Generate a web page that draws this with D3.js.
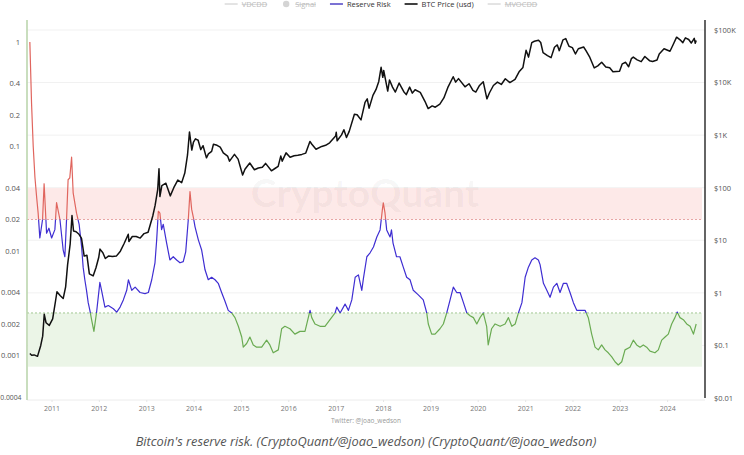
<!DOCTYPE html>
<html><head><meta charset="utf-8">
<script src="https://cdn.jsdelivr.net/npm/d3@7"></script>
<style>
body{margin:0;background:#fff;}
svg{display:block;font-family:"Open Sans",sans-serif;}
</style>
</head><body>
<svg id="c" width="744" height="455"></svg>
<script>
// ---------- DATA ----------
const rrDates = ["2010-07-18","2010-07-31","2010-08-13","2010-08-26","2010-09-08","2010-09-20","2010-10-03","2010-10-24","2010-11-05","2010-11-24","2010-12-12",
"2011-01-02","2011-01-27","2011-02-09","2011-03-07","2011-04-01","2011-04-14","2011-04-27","2011-05-09","2011-05-22","2011-06-05","2011-06-17","2011-07-13","2011-08-02","2011-08-21","2011-09-02","2011-09-15","2011-09-28","2011-10-11","2011-10-24","2011-11-06","2011-11-24","2011-12-14",
"2012-01-09","2012-01-22","2012-02-17","2012-03-14","2012-04-22","2012-05-18","2012-06-13","2012-07-08","2012-08-03","2012-08-16","2012-09-11","2012-10-07","2012-11-14","2012-12-22",
"2013-01-17","2013-02-12","2013-03-09","2013-03-22","2013-04-04","2013-04-16","2013-04-29","2013-05-12","2013-06-07","2013-07-02","2013-07-28","2013-08-23","2013-09-18","2013-10-13","2013-11-01","2013-11-21","2013-12-04","2013-12-17","2013-12-30",
"2014-01-12","2014-02-07","2014-03-04","2014-03-30","2014-04-24","2014-05-20","2014-06-15","2014-07-10","2014-08-05","2014-08-31","2014-09-25","2014-10-22","2014-11-16","2014-12-12",
"2015-01-07","2015-01-19","2015-02-14","2015-03-11","2015-04-06","2015-05-02","2015-06-10","2015-07-18","2015-08-12","2015-09-07","2015-10-16","2015-11-11","2015-12-06",
"2016-01-14","2016-02-21","2016-03-31","2016-05-09","2016-06-17","2016-06-30","2016-07-25","2016-09-02","2016-10-10","2016-11-18","2016-12-27",
"2017-01-09","2017-02-04","2017-03-14","2017-04-09","2017-05-05","2017-05-31","2017-06-25","2017-07-21","2017-08-03","2017-08-29","2017-09-23","2017-10-19","2017-11-14","2017-12-09","2017-12-27",
"2018-01-03","2018-01-16","2018-01-29","2018-02-24","2018-03-07","2018-03-19","2018-04-15","2018-05-11","2018-06-06","2018-07-02","2018-07-28","2018-08-22","2018-09-30","2018-11-07","2018-12-04","2018-12-16",
"2019-01-11","2019-02-06","2019-03-16","2019-04-11","2019-05-07","2019-06-02","2019-06-27","2019-07-23","2019-08-18","2019-09-13","2019-10-09","2019-11-03","2019-11-29","2019-12-25",
"2020-01-19","2020-02-13","2020-03-10","2020-03-22","2020-04-17","2020-05-14","2020-06-22","2020-07-30","2020-08-25","2020-09-20","2020-10-16","2020-11-10","2020-12-07",
"2021-01-01","2021-01-26","2021-02-21","2021-03-18","2021-04-13","2021-04-26","2021-05-22","2021-06-17","2021-07-12","2021-08-07","2021-09-02","2021-09-27","2021-10-23","2021-11-17","2021-12-13",
"2022-01-08","2022-02-03","2022-02-28","2022-04-08","2022-05-03","2022-05-29","2022-06-24","2022-07-19","2022-08-14","2022-09-09","2022-10-04","2022-10-31","2022-11-25","2022-12-20",
"2023-01-16","2023-02-10","2023-03-20","2023-04-15","2023-05-11","2023-06-06","2023-07-01","2023-07-27","2023-08-22","2023-09-29","2023-10-25","2023-11-20","2023-12-16",
"2024-01-10","2024-02-05","2024-03-01","2024-03-19","2024-04-09","2024-05-05","2024-05-31","2024-06-26","2024-07-22","2024-08-12"];
const rrValues = [1.0,0.26,0.10,0.051,0.033,0.023,0.0133,0.020,0.044,0.0148,0.0165,
0.0133,0.016,0.029,0.020,0.0102,0.0088,0.020,0.048,0.050,0.079,0.036,0.023,0.018,0.011,0.0070,0.0053,0.0042,0.0032,0.0027,0.0022,0.0017,0.00255,
0.0050,0.0042,0.0029,0.0030,0.0028,0.0026,0.0029,0.0034,0.0042,0.0053,0.0042,0.0045,0.0040,0.0039,
0.0040,0.0053,0.0077,0.0127,0.024,0.023,0.016,0.018,0.0119,0.0082,0.0088,0.0082,0.0077,0.0079,0.0098,0.020,0.037,0.025,0.021,
0.017,0.0127,0.0102,0.0066,0.0053,0.0056,0.0053,0.0049,0.0040,0.0033,0.0027,0.00255,0.0023,0.0019,
0.0015,0.0012,0.0013,0.0015,0.00126,0.0012,0.0012,0.0014,0.00126,0.00106,0.00113,0.0018,0.0019,
0.0018,0.0016,0.0017,0.0017,0.0027,0.0023,0.0020,0.0019,0.0019,0.0022,0.00255,
0.0029,0.00255,0.0031,0.0027,0.0034,0.0056,0.0059,0.0042,0.0055,0.0088,0.0096,0.0109,0.0136,0.0159,0.025,
0.0288,0.0231,0.0159,0.0136,0.0159,0.0119,0.0088,0.0088,0.0070,0.0056,0.0053,0.0042,0.0038,0.0034,0.00255,0.0020,
0.0016,0.0016,0.0018,0.0020,0.00255,0.0034,0.0045,0.0040,0.0040,0.0032,0.00255,0.0024,0.0023,0.0020,
0.0023,0.00255,0.0019,0.00126,0.0018,0.0020,0.0019,0.0020,0.0023,0.0019,0.0020,0.00255,0.0032,
0.0056,0.0070,0.0082,0.0086,0.0082,0.0074,0.0049,0.0042,0.0036,0.0045,0.0049,0.0040,0.0049,0.0049,0.0040,
0.0032,0.0027,0.0027,0.0027,0.0023,0.0016,0.0012,0.00113,0.00126,0.00113,0.00106,0.00097,0.00087,0.00081,
0.00087,0.00113,0.0012,0.0014,0.00126,0.0012,0.00126,0.0012,0.0011,0.00106,0.00113,0.0014,0.0015,
0.0016,0.0020,0.0023,0.0026,0.0023,0.0022,0.0020,0.0019,0.0016,0.0020];

const btcDates = ["2010-07-18","2010-08-01","2010-08-20","2010-09-15","2010-10-10","2010-10-25","2010-11-06","2010-11-20","2010-12-15",
"2011-01-10","2011-02-01","2011-02-12","2011-03-10","2011-04-01","2011-04-20","2011-05-05","2011-05-25","2011-06-08","2011-06-20","2011-07-10","2011-08-01","2011-08-20","2011-09-10","2011-10-01","2011-10-20","2011-11-18","2011-12-10","2011-12-31",
"2012-01-10","2012-02-01","2012-02-20","2012-03-15","2012-04-15","2012-05-15","2012-06-15","2012-07-15","2012-08-15","2012-08-20","2012-09-15","2012-10-15","2012-11-15","2012-12-15",
"2013-01-15","2013-02-01","2013-02-20","2013-03-10","2013-03-30","2013-04-09","2013-04-16","2013-05-01","2013-06-01","2013-07-05","2013-08-01","2013-09-01","2013-10-01","2013-10-25","2013-11-15","2013-11-30","2013-12-18","2013-12-31",
"2014-01-15","2014-02-05","2014-02-25","2014-03-15","2014-04-10","2014-04-25","2014-05-20","2014-06-03","2014-07-01","2014-07-25","2014-08-18","2014-09-20","2014-10-05","2014-11-12","2014-12-10",
"2015-01-14","2015-02-01","2015-03-10","2015-04-15","2015-05-15","2015-06-15","2015-07-10","2015-08-24","2015-09-20","2015-10-15","2015-11-04","2015-11-15","2015-12-15",
"2016-01-15","2016-02-15","2016-03-15","2016-04-15","2016-05-15","2016-06-16","2016-07-01","2016-08-02","2016-09-15","2016-10-15","2016-11-15","2016-12-31",
"2017-01-05","2017-01-12","2017-02-15","2017-03-05","2017-03-25","2017-04-15","2017-05-25","2017-06-15","2017-07-15","2017-08-15","2017-09-01","2017-09-15","2017-10-15","2017-11-08","2017-11-29","2017-12-17","2017-12-30",
"2018-01-06","2018-02-06","2018-02-20","2018-03-15","2018-04-06","2018-05-05","2018-06-10","2018-06-29","2018-07-25","2018-08-15","2018-09-05","2018-10-15","2018-11-20","2018-12-15",
"2019-01-15","2019-02-08","2019-03-15","2019-04-15","2019-05-15","2019-06-26","2019-07-15","2019-08-06","2019-09-25","2019-10-26","2019-11-25","2019-12-17",
"2020-01-15","2020-02-13","2020-03-12","2020-04-01","2020-05-01","2020-06-01","2020-07-01","2020-08-01","2020-09-05","2020-10-15","2020-11-15","2020-12-15",
"2021-01-08","2021-01-27","2021-02-21","2021-03-13","2021-04-14","2021-05-01","2021-05-19","2021-06-22","2021-07-20","2021-08-15","2021-09-06","2021-09-21","2021-10-20","2021-11-10","2021-12-05","2021-12-31",
"2022-01-24","2022-02-15","2022-03-28","2022-04-15","2022-05-15","2022-06-18","2022-07-15","2022-08-14","2022-09-15","2022-10-15","2022-11-09","2022-12-30",
"2023-01-20","2023-02-15","2023-03-10","2023-03-31","2023-04-15","2023-05-15","2023-06-15","2023-07-13","2023-08-18","2023-09-11","2023-10-15","2023-11-01","2023-12-08",
"2024-01-23","2024-02-15","2024-03-14","2024-04-15","2024-05-01","2024-05-21","2024-06-15","2024-07-05","2024-07-28","2024-08-05","2024-08-12"];
const btcPrices = [0.07,0.065,0.066,0.062,0.10,0.15,0.39,0.27,0.24,
0.32,0.70,1.05,0.88,0.78,1.3,3.4,8.5,29.6,15,14.5,13,11,5.0,5.2,2.3,2.1,3.0,4.7,
6.8,5.8,4.5,5.0,4.9,5.0,6.2,8.8,13.0,9.5,11.8,11.8,11.0,13.4,
14.2,20,29,46,92,230,68,110,122,70,100,140,125,190,420,1150,520,740,
850,800,530,630,370,440,490,670,640,590,460,400,320,430,350,
175,225,295,220,237,245,290,210,232,255,400,320,460,
380,405,415,430,455,760,670,540,610,640,715,960,
1130,780,1010,1270,900,1180,2500,2450,1950,4200,4900,3250,5700,7400,10500,19500,12600,
17000,6900,11200,8200,6600,9800,6700,5900,8200,6300,7300,6500,4400,3200,
3600,3400,3900,5100,8000,12900,10200,11900,8300,9500,7100,6600,
8800,10350,4900,6400,8800,10200,9200,11800,10000,11500,16000,19400,
41000,30500,57500,61000,64000,57800,37000,32500,29800,47000,52000,40500,65000,68500,49000,46300,
35000,44000,47500,40500,30000,19000,20800,24400,19700,19100,16000,16500,
22700,24300,20000,28500,30500,27100,25000,31400,26100,25100,26900,35000,44000,
39500,51900,73000,63400,57500,71000,66000,56500,69500,56000,63000];

const years = [2011,2012,2013,2014,2015,2016,2017,2018,2019,2020,2021,2022,2023,2024];
const leftTicks = [1,0.4,0.2,0.1,0.04,0.02,0.01,0.004,0.002,0.001,0.0004];
const leftTickLabels = ["1","0.4","0.2","0.1","0.04","0.02","0.01","0.004","0.002","0.001","0.0004"];
const rightTicks = [100000,10000,1000,100,10,1,0.1,0.01];
const rightTickLabels = ["$100K","$10K","$1K","$100","$10","$1","$0.1","$0.01"];
const highBand = [0.02, 0.04];
const lowBand = [0.00078, 0.00255];
const legendNames = ["VDCDD","Signal","Reserve Risk","BTC Price (usd)","MVOCDD"];
const legendActive = [false,false,true,true,false];

// ---------- LAYOUT ----------
const W = 744, H = 455;
const L = 27, R = 705, T = 20, B = 400;
const svg = d3.select("#c");
const parse = d3.utcParse("%Y-%m-%d");

const x = d3.scaleUtc().domain([parse("2010-06-26"), parse("2024-10-19")]).range([L, R]);
const yL = d3.scaleLog().domain([0.0004, 1]).range([397, 42]);
const yR = d3.scaleLog().domain([0.01, 100000]).range([398, 30]);

const rr = rrDates.map((d,i)=>({d:parse(d), v:rrValues[i]}));
const btc = btcDates.map((d,i)=>({d:parse(d), v:btcPrices[i]}));

// gridlines
svg.append("g").selectAll("line").data(rightTicks.slice(0,-1)).join("line")
  .attr("x1", L).attr("x2", R).attr("y1", d=>yR(d)).attr("y2", d=>yR(d))
  .attr("stroke", "#f1f1f1").attr("stroke-width", 1);
svg.append("line").attr("x1", L).attr("x2", R).attr("y1", B).attr("y2", B)
  .attr("stroke", "#ececec");

// bands
svg.append("rect").attr("x", L+1).attr("width", R-L-4)
  .attr("y", yL(highBand[1])).attr("height", yL(highBand[0]) - yL(highBand[1]))
  .attr("fill", "#fde9e8");
svg.append("rect").attr("x", L+1).attr("width", R-L-4)
  .attr("y", yL(lowBand[1])).attr("height", yL(lowBand[0]) - yL(lowBand[1]))
  .attr("fill", "#ebf5e7");
svg.append("line").attr("x1", L).attr("x2", R-3).attr("y1", yL(highBand[0])).attr("y2", yL(highBand[0]))
  .attr("stroke", "#e49c9c").attr("stroke-dasharray", "2,2").attr("stroke-width", 0.9);
svg.append("line").attr("x1", L).attr("x2", R-3).attr("y1", yL(lowBand[1])).attr("y2", yL(lowBand[1]))
  .attr("stroke", "#97c188").attr("stroke-dasharray", "2,2").attr("stroke-width", 0.9);

// watermark
svg.append("text").attr("x", 365).attr("y", 207).attr("text-anchor", "middle")
  .attr("font-family", "Lato, 'Open Sans', sans-serif").attr("font-size", 39).attr("font-weight", "bold")
  .attr("fill", "#000").attr("fill-opacity", 0.045).text("CryptoQuant");

// clip paths for reserve risk colouring
const defs = svg.append("defs");
const clips = [
  {id:"cr", y0:T-20, y1:yL(highBand[0]), color:"#e0655e"},
  {id:"cb", y0:yL(highBand[0]), y1:yL(lowBand[1]), color:"#3f2ed2"},
  {id:"cg", y0:yL(lowBand[1]), y1:B+10, color:"#6aab52"}
];
clips.forEach(c=>{
  defs.append("clipPath").attr("id", c.id).append("rect")
    .attr("x", 0).attr("width", W).attr("y", c.y0).attr("height", c.y1 - c.y0);
});

const rrLine = d3.line().x(d=>x(d.d)).y(d=>yL(d.v));
clips.forEach(c=>{
  svg.append("path").datum(rr).attr("d", rrLine).attr("fill", "none")
    .attr("stroke", c.color).attr("stroke-width", 1.2).attr("stroke-linejoin", "round")
    .attr("clip-path", `url(#${c.id})`);
});

const btcLine = d3.line().x(d=>x(d.d)).y(d=>yR(d.v));
svg.append("path").datum(btc).attr("d", btcLine).attr("fill", "none")
  .attr("stroke", "#111").attr("stroke-width", 1.5).attr("stroke-linejoin", "round");

// left axis
const gl = svg.append("g").attr("transform", `translate(${L},0)`)
  .call(d3.axisLeft(yL).tickValues(leftTicks).tickFormat((d,i)=>leftTickLabels[i]).tickSize(0).tickPadding(7));
gl.select(".domain").remove();
gl.selectAll("text").attr("font-size", 7.5).attr("fill", "#555").attr("font-family", "'Open Sans', sans-serif");
gl.selectAll("text").filter(d=>d===0.0004).attr("font-size", 6.8).attr("x", -5.5);
svg.append("line").attr("x1", L).attr("x2", L).attr("y1", T).attr("y2", B)
  .attr("stroke", "#bcd6ae").attr("stroke-width", 1.6);

// right axis
const gr = svg.append("g").attr("transform", `translate(${R},0)`)
  .call(d3.axisRight(yR).tickValues(rightTicks).tickFormat((d,i)=>rightTickLabels[i]).tickSize(0).tickPadding(9));
gr.select(".domain").remove();
gr.selectAll("text").attr("font-size", 7.5).attr("fill", "#555").attr("font-family", "'Open Sans', sans-serif");
svg.append("line").attr("x1", R).attr("x2", R).attr("y1", T).attr("y2", B-2)
  .attr("stroke", "#111").attr("stroke-width", 1.3);

// x axis
const gx = svg.append("g").attr("transform", `translate(0,${B})`)
  .call(d3.axisBottom(x).tickValues(years.map(y=>new Date(Date.UTC(y,0,1)))).tickFormat(d3.utcFormat("%Y")).tickSize(2).tickPadding(4));
gx.select(".domain").remove();
gx.selectAll("line").attr("stroke", "#e6e6e6");
gx.selectAll("text").attr("font-size", 7).attr("fill", "#777").attr("font-family", "'Open Sans', sans-serif");

svg.append("text").attr("x", 366).attr("y", 423).attr("text-anchor", "middle")
  .attr("font-size", 6.5).attr("fill", "#999").text("Twitter: @joao_wedson");

// legend
const lg = svg.append("g");
let lx = 0;
legendNames.forEach((n,i)=>{
  const g = lg.append("g");
  const on = legendActive[i];
  const col = on ? (n==="Reserve Risk" ? "#5a4ec9" : "#111") : "#c8c8c8";
  if (n === "Signal") {
    g.append("circle").attr("cx", lx+5).attr("cy", 4).attr("r", 3.2).attr("fill", "#d4d4d4");
  } else {
    g.append("line").attr("x1", lx).attr("x2", lx+13).attr("y1", 4).attr("y2", 4)
      .attr("stroke", col).attr("stroke-width", on ? 1.6 : 1);
  }
  const tx = lx + (n==="Signal" ? 14 : 17);
  const t = g.append("text").attr("x", tx).attr("y", 6.9).attr("font-size", 7.5)
    .attr("fill", on ? "#333" : "#bbb").text(n);
  const w = t.node().getComputedTextLength();
  if (!on) {
    g.append("line").attr("x1", tx).attr("x2", tx+w).attr("y1", 4.4).attr("y2", 4.4)
      .attr("stroke", "#bbb").attr("stroke-width", 0.6);
  }
  lx = tx + w + 14;
});
const lw = lx - 14;
lg.attr("transform", `translate(${381 - lw/2},0)`);

// caption
svg.append("text").attr("x", 366).attr("y", 446).attr("text-anchor", "middle")
  .attr("font-family", "'Open Sans', sans-serif").attr("font-style", "italic")
  .attr("font-size", 12.8).attr("fill", "#555")
  .text("Bitcoin's reserve risk. (CryptoQuant/@joao_wedson) (CryptoQuant/@joao_wedson)");
</script>
</body></html>
